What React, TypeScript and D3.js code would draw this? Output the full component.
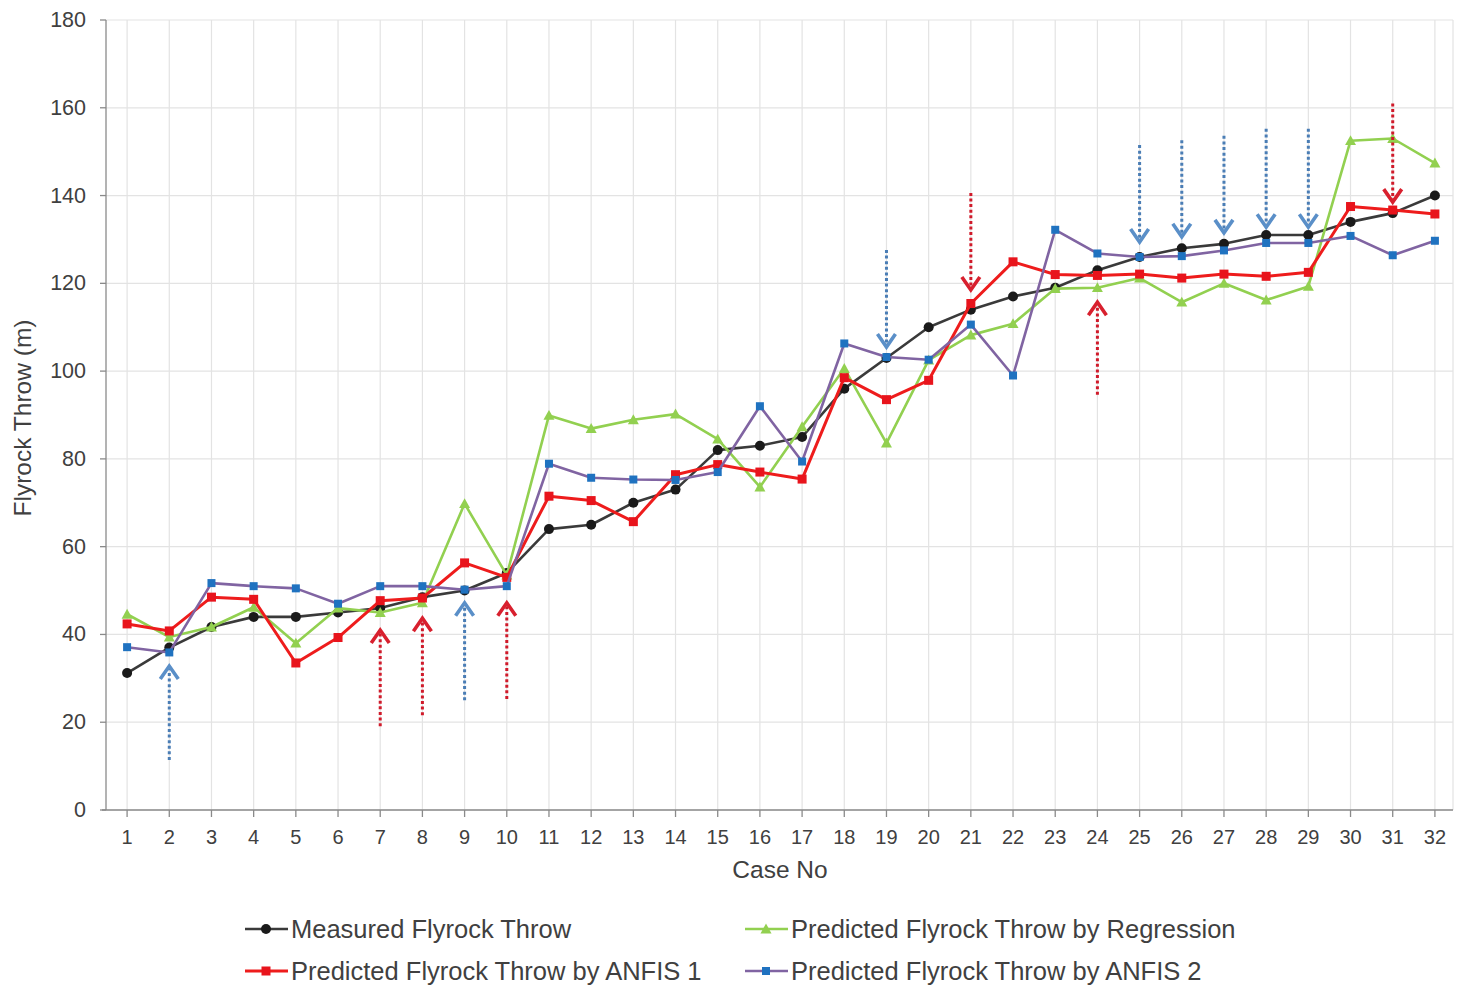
import React from "react";
import * as d3 from "d3";

const cases = d3.range(1, 33).map(String);
const measured = [31.2, 37, 41.7, 44, 44, 45, 46, 48.5, 50, 54, 64, 65, 70, 73, 82, 83, 85, 96, 103, 110, 114, 117, 119, 123, 126, 128, 129, 131, 131, 134, 136, 140];
const regression = [44.6, 39.4, 41.7, 46.2, 38, 46, 45, 47.2, 69.8, 53.5, 89.9, 86.9, 88.9, 90.2, 84.5, 73.6, 87.3, 100.6, 83.6, 102.5, 108.2, 110.8, 118.8, 119, 121.2, 115.7, 120, 116.2, 119.3, 152.5, 153, 147.4];
const anfis1 = [42.4, 40.8, 48.5, 48, 33.5, 39.3, 47.7, 48.3, 56.3, 53, 71.5, 70.5, 65.7, 76.4, 78.7, 77, 75.4, 98.5, 93.5, 97.9, 115.4, 124.9, 122, 121.8, 122.1, 121.2, 122.1, 121.6, 122.5, 137.5, 136.7, 135.8];
const anfis2 = [37.1, 35.9, 51.7, 51, 50.5, 47, 51, 51, 50.2, 51, 78.9, 75.7, 75.3, 75.2, 77, 92, 79.4, 106.3, 103.2, 102.6, 110.6, 99, 132.2, 126.8, 126, 126.2, 127.5, 129.2, 129.2, 130.8, 126.4, 129.7];

const yTicks = [0, 20, 40, 60, 80, 100, 120, 140, 160, 180];

// annotation arrows: case, tail value, tip value, colour group
const arrowCases = ["2", "7", "8", "9", "10", "24", "19", "21", "25", "26", "27", "28", "29", "31"];
const arrowTails = [11.4, 19.1, 21.6, 25, 25.3, 94.6, 127.6, 140.6, 151.5, 152.6, 153.6, 155.2, 155.2, 161];
const arrowTips = [32.8, 41, 43.7, 47.2, 47.2, 115.7, 105.5, 118.5, 129.4, 130.6, 131.5, 132.8, 132.8, 138.5];
const arrowKinds = ["b", "r", "r", "b", "r", "r", "b", "r", "b", "b", "b", "b", "b", "r"];

const seriesNames = [
  "Measured Flyrock Throw",
  "Predicted Flyrock Throw by Regression",
  "Predicted Flyrock Throw by ANFIS 1",
  "Predicted Flyrock Throw by ANFIS 2",
];

const W = 1465, H = 990;
const left = 106, right = 1456, top = 20, bottom = 810;
const FONT = "'Liberation Sans', Arial, sans-serif";

type Series = { name: string; values: number[]; line: string; marker: string; shape: string; lw: number };

const series: Series[] = [
  { name: seriesNames[0], values: measured, line: "#3a3a3a", marker: "#1a1a1a", shape: "circle", lw: 2.6 },
  { name: seriesNames[1], values: regression, line: "#92d050", marker: "#92d050", shape: "triangle", lw: 2.6 },
  { name: seriesNames[2], values: anfis1, line: "#ee1c1c", marker: "#e8141c", shape: "square", lw: 3 },
  { name: seriesNames[3], values: anfis2, line: "#8064a2", marker: "#1f72c0", shape: "square2", lw: 2.6 },
];

function Marker({ shape, x, y, color }: { shape: string; x: number; y: number; color: string }) {
  if (shape === "circle") return <circle cx={x} cy={y} r={5} fill={color} />;
  if (shape === "triangle") {
    const s = 5.5;
    return <path d={`M${x},${y - s}L${x + s},${y + s * 0.8}L${x - s},${y + s * 0.8}Z`} fill={color} />;
  }
  const s = shape === "square" ? 9 : 8;
  return <rect x={x - s / 2} y={y - s / 2} width={s} height={s} fill={color} />;
}

export default function App() {
  const x = d3.scaleBand<string>().domain(cases).range([left, right]).padding(0);
  const cx = (c: string) => (x(c) as number) + x.bandwidth() / 2;
  const y = d3.scaleLinear().domain([0, 180]).range([bottom, top]);

  const line = d3
    .line<number>()
    .x((_, i) => cx(cases[i]))
    .y((d) => y(d));

  const legendPos = [
    { x: 245, y: 929 },
    { x: 745, y: 929 },
    { x: 245, y: 971 },
    { x: 745, y: 971 },
  ];

  return (
    <svg width={W} height={H} style={{ position: "absolute", left: 0, top: 0, background: "#fff" }} fontFamily={FONT}>
      <rect x={0} y={0} width={W} height={H} fill="#fff" />
      {/* gridlines */}
      {yTicks.map((t) => (
        <line key={"hg" + t} x1={left} x2={right - 3} y1={y(t)} y2={y(t)} stroke="#e3e3e3" strokeWidth={1.2} />
      ))}
      {cases.map((c) => (
        <line key={"vg" + c} x1={cx(c)} x2={cx(c)} y1={top} y2={bottom} stroke="#e3e3e3" strokeWidth={1.2} />
      ))}
      <line x1={right - 3} x2={right - 3} y1={top} y2={bottom} stroke="#e3e3e3" strokeWidth={1.2} />

      {/* axes */}
      <line x1={left} x2={left} y1={top} y2={bottom} stroke="#8a8a8a" strokeWidth={1.3} />
      <line x1={left - 4} x2={right - 3} y1={bottom} y2={bottom} stroke="#8a8a8a" strokeWidth={1.3} />
      {yTicks.map((t) => (
        <g key={"yt" + t}>
          <line x1={left - 6} x2={left} y1={y(t)} y2={y(t)} stroke="#8a8a8a" strokeWidth={1.3} />
          <text x={86} y={y(t) + 7} textAnchor="end" fontSize={21.5} fill="#404040">
            {t}
          </text>
        </g>
      ))}
      {cases.map((c) => (
        <g key={"xt" + c}>
          <line x1={cx(c)} x2={cx(c)} y1={bottom} y2={bottom + 7} stroke="#8a8a8a" strokeWidth={1.3} />
          <text x={cx(c)} y={844} textAnchor="middle" fontSize={20} fill="#404040">
            {c}
          </text>
        </g>
      ))}
      <text x={780} y={878} textAnchor="middle" fontSize={24.5} fill="#404040">
        Case No
      </text>
      <text transform={`translate(31,418) rotate(-90)`} textAnchor="middle" fontSize={24.5} fill="#404040">
        Flyrock Throw (m)
      </text>

      {/* series */}
      {series.map((s) => (
        <g key={s.name}>
          <path d={line(s.values) || ""} fill="none" stroke={s.line} strokeWidth={s.lw} strokeLinejoin="round" />
          {s.values.map((v, i) => (
            <Marker key={i} shape={s.shape} x={cx(cases[i])} y={y(v)} color={s.marker} />
          ))}
        </g>
      ))}

      {/* annotation arrows */}
      {arrowCases.map((c, i) => {
        const ax = cx(c);
        const yt = y(arrowTails[i]);
        const yp = y(arrowTips[i]);
        const dir = yp > yt ? 1 : -1; // 1 = pointing down
        const col = arrowKinds[i] === "b" ? "#4a7db5" : "#d01a2a";
        const head = arrowKinds[i] === "b" ? "#5a8fc8" : "#d8202e";
        return (
          <g key={"ar" + i}>
            <line x1={ax} x2={ax} y1={yt} y2={yp - dir * 3} stroke={col} strokeWidth={3} strokeDasharray="3 2.6" />
            <path
              d={`M${ax - 9},${yp - dir * 13}L${ax},${yp}L${ax + 9},${yp - dir * 13}`}
              fill="none"
              stroke={head}
              strokeWidth={3.6}
            />
          </g>
        );
      })}

      {/* legend */}
      {series.map((s, i) => {
        const p = legendPos[i];
        return (
          <g key={"lg" + i}>
            <line x1={p.x} x2={p.x + 43} y1={p.y} y2={p.y} stroke={s.line} strokeWidth={s.lw} />
            <Marker shape={s.shape} x={p.x + 21} y={p.y} color={s.marker} />
            <text x={p.x + 46} y={p.y + 9} fontSize={25.5} fill="#404040">
              {s.name}
            </text>
          </g>
        );
      })}
    </svg>
  );
}
